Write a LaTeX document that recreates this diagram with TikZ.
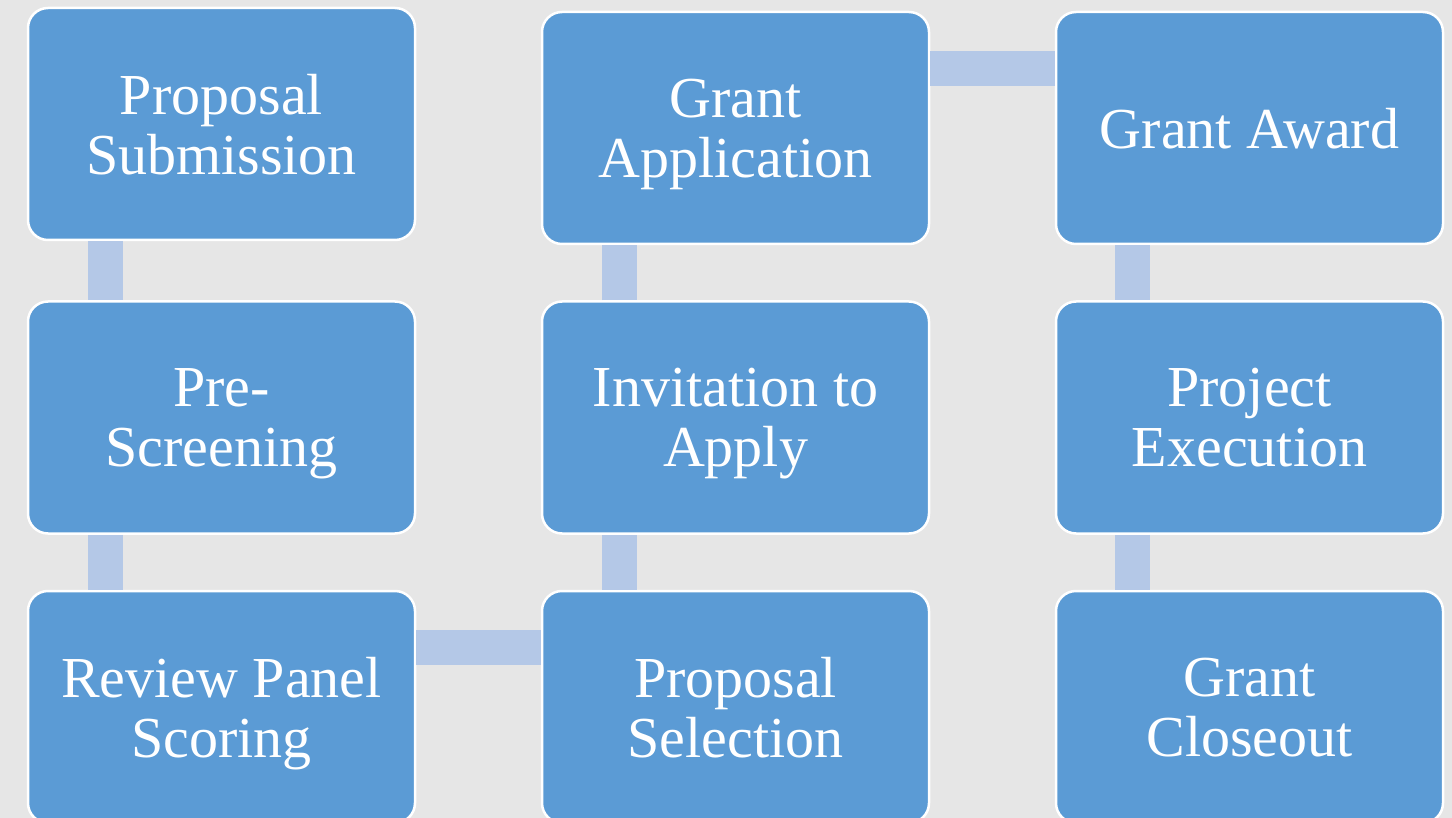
\documentclass[tikz,border=0pt]{standalone}
\usepackage{fontspec}
\setmainfont{Liberation Serif}
\usepackage{xcolor}
\definecolor{stageblue}{RGB}{91,155,213}
\definecolor{linkblue}{RGB}{180,200,231}
\definecolor{pagegrey}{RGB}{230,230,230}

\begin{document}
\begin{tikzpicture}[x=0.5pt,y=-0.5pt]
\fill[pagegrey] (0,0) rectangle (1452,818);
\clip (0,0) rectangle (1452,818);

\begin{scope}[every node/.style={rectangle,rounded corners=10pt,draw=white,line width=1.25pt,
              fill=stageblue,text=white,minimum width=193.5pt,minimum height=116pt,
              align=center,text depth=0pt,font=\fontsize{29}{30}\selectfont}]
    \node (sub) at (221.5,124) {Proposal\\Submission};
    \node (pre) at (221.5,417.5) {Pre-\\Screening};
    \node (rev) at (221.5,707) {Review Panel\\Scoring};
    \node (sel) at (735.5,707) {Proposal\\Selection};
    \node (inv) at (735.5,417.5) {Invitation to\\Apply};
    \node (app) at (735.5,128) {Grant\\Application};
    \node (awd) at (1249.5,128) {Grant Award};
    \node (exe) at (1249.5,417.5) {Project\\Execution};
    \node (clo) at (1249.5,707) {Grant\\Closeout};
    \end{scope}

\begin{scope}[every edge/.style={draw=linkblue,line width=17.5pt}]
    \path ([xshift=39.25pt]sub.south west) edge ([xshift=39.25pt]pre.north west);
    \path ([xshift=39.25pt]pre.south west) edge ([xshift=39.25pt]rev.north west);
    \path ([yshift=-28.75pt]rev.north east) edge ([yshift=-28.75pt]sel.north west);
    \path ([xshift=39.25pt]sel.north west) edge ([xshift=39.25pt]inv.south west);
    \path ([xshift=39.25pt]inv.north west) edge ([xshift=39.25pt]app.south west);
    \path ([yshift=-28.75pt]app.north east) edge ([yshift=-28.75pt]awd.north west);
    \path ([xshift=39pt]awd.south west) edge ([xshift=39pt]exe.north west);
    \path ([xshift=39pt]exe.south west) edge ([xshift=39pt]clo.north west);

    \end{scope}

\end{tikzpicture}
\end{document}
